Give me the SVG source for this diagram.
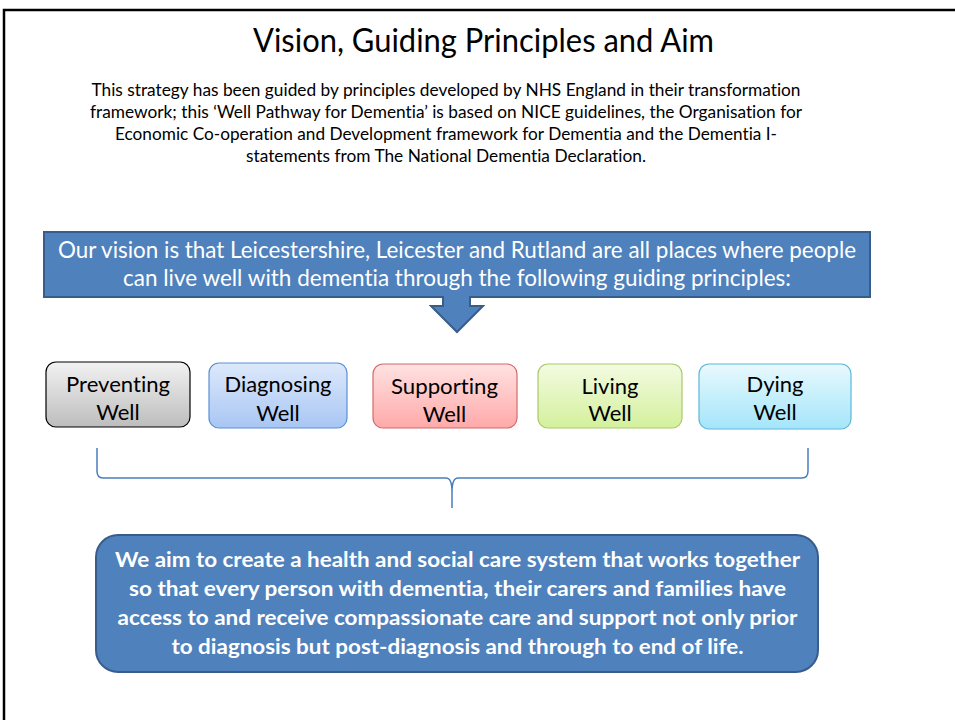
<svg xmlns="http://www.w3.org/2000/svg" width="955" height="720" viewBox="0 0 955 720">
<defs>
<linearGradient id="gGray" x1="0" y1="0" x2="0" y2="1"><stop offset="0" stop-color="#f2f2f2"/><stop offset="1" stop-color="#bdbdbd"/></linearGradient>
<linearGradient id="gBlue" x1="0" y1="0" x2="0" y2="1"><stop offset="0" stop-color="#dde9fb"/><stop offset="1" stop-color="#a8c6f4"/></linearGradient>
<linearGradient id="gRed" x1="0" y1="0" x2="0" y2="1"><stop offset="0" stop-color="#ffe2e2"/><stop offset="1" stop-color="#ffa9a9"/></linearGradient>
<linearGradient id="gGreen" x1="0" y1="0" x2="0" y2="1"><stop offset="0" stop-color="#f3fbe2"/><stop offset="1" stop-color="#d4f09c"/></linearGradient>
<linearGradient id="gCyan" x1="0" y1="0" x2="0" y2="1"><stop offset="0" stop-color="#e8f9fe"/><stop offset="1" stop-color="#a4e5fa"/></linearGradient>
</defs>
<style>
text{font-family:Lato,"Open Sans","Liberation Sans",sans-serif;text-anchor:middle;font-variant-ligatures:none}
.title{font-size:32px;fill:#000}
.para{font-size:16.5px;fill:#000}
.vision{font-size:22.5px;fill:#fff}
.box{font-size:22px;fill:#000}
.aim{font-size:21px;font-weight:bold;fill:#fff}
.blue{fill:#4f81bd;stroke:#385d8a;stroke-width:2}
</style>
<rect width="955" height="720" fill="#fff"/>
<path d="M4,720 V10 H955" fill="none" stroke="#000" stroke-width="2.5"/>
<g id="title">
<text class="title" x="483.5" y="52" textLength="461" lengthAdjust="spacingAndGlyphs">Vision, Guiding Principles and Aim</text>
</g>
<g id="intro">
<text class="para" x="446" y="96" textLength="709" lengthAdjust="spacingAndGlyphs">This strategy has been guided by principles developed by NHS England in their transformation</text>
<text class="para" x="446" y="118" textLength="712" lengthAdjust="spacingAndGlyphs">framework; this ‘Well Pathway for Dementia’ is based on NICE guidelines, the Organisation for</text>
<text class="para" x="446" y="140" textLength="662" lengthAdjust="spacingAndGlyphs">Economic Co-operation and Development framework for Dementia and the Dementia I-</text>
<text class="para" x="446" y="162" textLength="400" lengthAdjust="spacingAndGlyphs">statements from The National Dementia Declaration.</text>
</g>
<g id="vision">
<path class="blue" d="M44,232 H870 V297 H470 V306 H483 L457,332 L431,306 H443 V297 H44 Z" stroke-width="1.5"/>
<text class="vision" x="457" y="258" textLength="798" lengthAdjust="spacingAndGlyphs">Our vision is that Leicestershire, Leicester and Rutland are all places where people</text>
<text class="vision" x="457" y="286" textLength="668" lengthAdjust="spacingAndGlyphs">can live well with dementia through the following guiding principles:</text>
</g>
<g id="preventing">
<rect x="46" y="362" width="144" height="65" rx="10" fill="url(#gGray)" stroke="#000" stroke-width="1.2"/>
<text class="box" x="118" y="392" textLength="104" lengthAdjust="spacingAndGlyphs">Preventing</text>
<text class="box" x="118" y="420">Well</text>
</g>
<g id="diagnosing">
<rect x="209" y="363" width="138" height="65" rx="10" fill="url(#gBlue)" stroke="#5b8fd5" stroke-width="1.2"/>
<text class="box" x="278" y="392" textLength="107" lengthAdjust="spacingAndGlyphs">Diagnosing</text>
<text class="box" x="278" y="421">Well</text>
</g>
<g id="supporting">
<rect x="373" y="364" width="144" height="64" rx="10" fill="url(#gRed)" stroke="#d46a6a" stroke-width="1.2"/>
<text class="box" x="444.5" y="394" textLength="107" lengthAdjust="spacingAndGlyphs">Supporting</text>
<text class="box" x="444.5" y="422">Well</text>
</g>
<g id="living">
<rect x="538" y="364" width="144" height="64" rx="10" fill="url(#gGreen)" stroke="#a9c96b" stroke-width="1.2"/>
<text class="box" x="610" y="394">Living</text>
<text class="box" x="610" y="421">Well</text>
</g>
<g id="dying">
<rect x="699" y="364" width="152" height="65" rx="10" fill="url(#gCyan)" stroke="#5eb7d9" stroke-width="1.2"/>
<text class="box" x="775" y="392">Dying</text>
<text class="box" x="775" y="420">Well</text>
</g>
<g id="connectors">
<path d="M97,448 L97,471 Q97,478 103,478 L446,478 Q452,478 452,492 L452,508 M452,492 Q452,478 458,478 L802,478 Q808,478 808,471 L808,448" fill="none" stroke="#4a7ebb" stroke-width="1.5"/>
</g>
<g id="aim">
<rect class="blue" x="96" y="535" width="722" height="137" rx="22"/>
<text class="aim" x="457.5" y="567" textLength="685" lengthAdjust="spacingAndGlyphs">We aim to create a health and social care system that works together</text>
<text class="aim" x="457.5" y="596" textLength="657" lengthAdjust="spacingAndGlyphs">so that every person with dementia, their carers and families have</text>
<text class="aim" x="457.5" y="625" textLength="680" lengthAdjust="spacingAndGlyphs">access to and receive compassionate care and support not only prior</text>
<text class="aim" x="457.5" y="654" textLength="572" lengthAdjust="spacingAndGlyphs">to diagnosis but post-diagnosis and through to end of life.</text>
</g>
</svg>
